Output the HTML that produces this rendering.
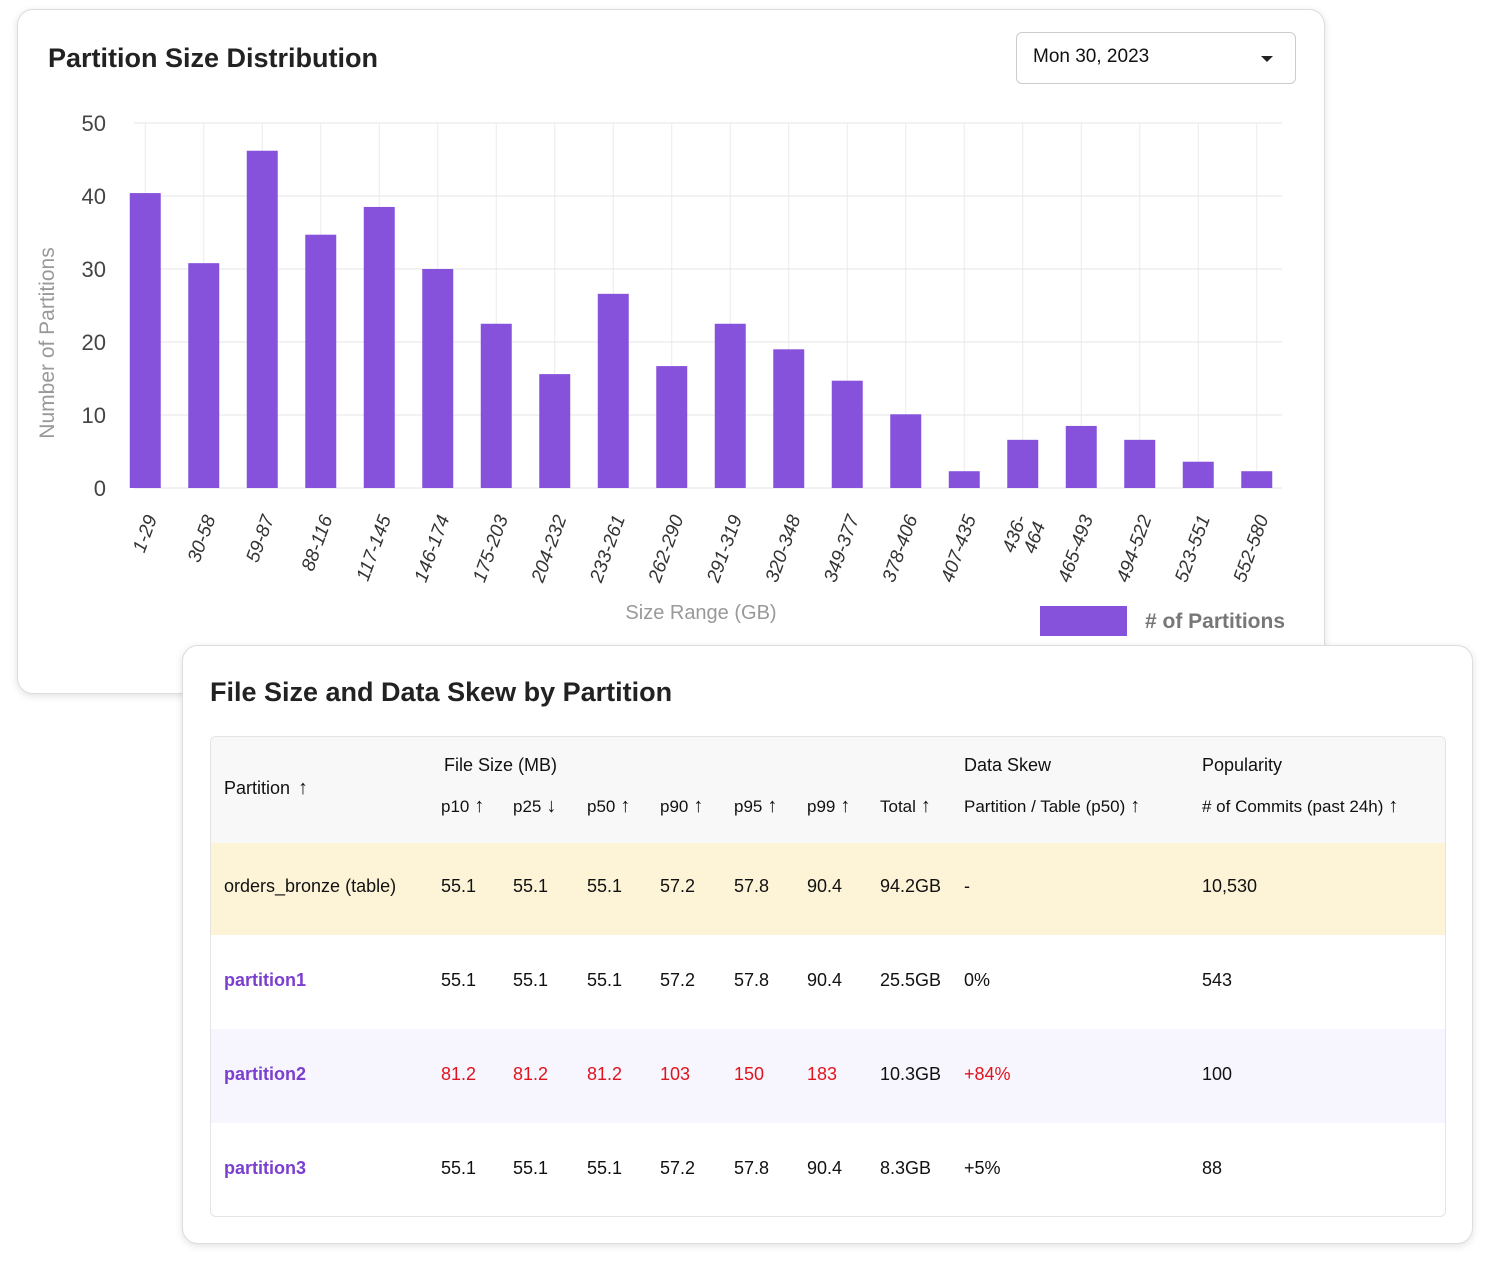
<!DOCTYPE html>
<html><head><meta charset="utf-8"><style>
*{box-sizing:border-box}
body{margin:0;width:1493px;height:1273px;background:#fff;font-family:"Liberation Sans",sans-serif;position:relative;overflow:hidden;color:#1d2329}
.card{position:absolute;background:#fff;border:1px solid #ddd;border-radius:16px;box-shadow:0 2px 8px rgba(0,0,0,.12)}
.t{position:absolute;font-size:18px;white-space:nowrap;color:#111}
.arr{font-size:20px;margin-left:8px}
</style></head><body>
<div class="card" style="left:17px;top:9px;width:1308px;height:685px">
  <div style="position:absolute;left:30px;top:33px;font-size:27px;font-weight:bold;color:#222">Partition Size Distribution</div>
  <div style="position:absolute;left:998px;top:22px;width:280px;height:52px;border:1px solid #ccc;border-radius:6px;font-size:19px;padding:13px 0 0 16px;color:#111">Mon 30, 2023<span style="position:absolute;right:22px;top:23px;border-left:6px solid transparent;border-right:6px solid transparent;border-top:6px solid #222"></span></div>
</div>
<svg id="chart" style="position:absolute;left:0;top:0" width="1493" height="700"></svg>
<div class="card" style="left:182px;top:645px;width:1291px;height:599px">
  <div style="position:absolute;left:27px;top:31px;font-size:27px;font-weight:bold;color:#222">File Size and Data Skew by Partition</div>
</div>
<div style="position:absolute;left:210px;top:736px;width:1236px;height:481px;border:1px solid #e4e4e4;border-radius:6px;overflow:hidden">
  <div style="position:absolute;left:0;top:0;width:100%;height:106px;background:#f8f8f8"></div>
  <div style="position:absolute;left:0;top:106px;width:100%;height:92px;background:#fdf4d8"></div>
  <div style="position:absolute;left:0;top:292px;width:100%;height:94px;background:#f7f5fd"></div>
</div>
<div id="tbl"></div>
<script>
const categories=["1-29","30-58","59-87","88-116","117-145","146-174","175-203","204-232","233-261","262-290","291-319","320-348","349-377","378-406","407-435","436-\n464","465-493","494-522","523-551","552-580"];
const values=[40.4,30.8,46.2,34.7,38.5,30,22.5,15.6,26.6,16.7,22.5,19,14.7,10.1,2.3,6.6,8.5,6.6,3.6,2.3];
const yTicks=[0,10,20,30,40,50];
const svg=document.getElementById('chart');const NS='http://www.w3.org/2000/svg';
const y0=488,y1=123,yMax=50,x0=116,bw=58.5;
const ys=v=>y0-(v/yMax)*(y0-y1);const xc=i=>x0+bw*(i+0.5);
function mk(t,a,txt){const e=document.createElementNS(NS,t);for(const k in a)e.setAttribute(k,a[k]);if(txt!=null)e.textContent=txt;svg.appendChild(e);return e;}
categories.forEach((c,i)=>{const g=mk('line',{x1:xc(i),x2:xc(i),y1:y1,y2:y0,stroke:'#ebebeb'});});
yTicks.forEach(t=>{const l=mk('line',{x1:134,x2:1282,y1:ys(t),y2:ys(t),stroke:'#e6e6e6'});
const tx=mk('text',{x:106,y:ys(t)+8,'text-anchor':'end','font-size':22,fill:'#444'},t);});
values.forEach((v,i)=>{const r=mk('rect',{x:xc(i)-15.5,y:ys(v),width:31,height:y0-ys(v),fill:'#8752db'});});
categories.forEach((c,i)=>{const parts=c.split('\n');const x=xc(i)+12,y=518;
const t=mk('text',{transform:`translate(${x},${y}) rotate(-70)`,'text-anchor':'end','font-size':19,fill:'#333','font-style':'italic'});

parts.forEach((p,j)=>{const s=document.createElementNS(NS,'tspan');s.setAttribute('x',0);s.setAttribute('dy',j?20:0);s.textContent=p;t.appendChild(s);});
if(parts.length>1)t.setAttribute('transform',`translate(${x-8},${y}) rotate(-70)`);});
const yt=mk('text',{transform:'translate(54,343) rotate(-90)','text-anchor':'middle','font-size':21,fill:'#999'},'Number of Partitions');
const xt=mk('text',{x:701,y:619,'text-anchor':'middle','font-size':20,fill:'#999'},'Size Range (GB)');
const ls=mk('rect',{x:1040,y:606,width:87,height:30,fill:'#8752db'});
const lt=mk('text',{x:1145,y:628,'font-size':21,fill:'#777','font-weight':'bold'},'# of Partitions');

const cols=[224,441,513,587,660,734,807,880,964,1202];
let html='';
function put(x,y,txt,name,extra){html+=`<div class="t" style="left:${x}px;top:${y}px;${extra||''}">${txt}</div>`;}
put(224,777,'Partition<span class="arr">↑</span>','partition-header');
put(444,755,'File Size (MB)','file-size-header');
put(964,755,'Data Skew','data-skew-header');
put(1202,755,'Popularity','popularity-header');
const sub=['p10','p25','p50','p90','p95','p99','Total','Partition / Table (p50)','# of Commits (past 24h)'];
const dirs=['↑','↓','↑','↑','↑','↑','↑','↑','↑'];
sub.forEach((s,i)=>put(cols[i+1],795,s+'<span class="arr" style="margin-left:5px">'+dirs[i]+'</span>','column-header-'+i,'font-size:17px'));
const rows=[
 {y:876,c:['orders_bronze (table)','55.1','55.1','55.1','57.2','57.8','90.4','94.2GB','-','10,530'],red:false,name:'orders-bronze'},
 {y:970,c:['partition1','55.1','55.1','55.1','57.2','57.8','90.4','25.5GB','0%','543'],red:false,name:'partition1'},
 {y:1064,c:['partition2','81.2','81.2','81.2','103','150','183','10.3GB','+84%','100'],red:true,name:'partition2'},
 {y:1158,c:['partition3','55.1','55.1','55.1','57.2','57.8','90.4','8.3GB','+5%','88'],red:false,name:'partition3'}];
rows.forEach((r,ri)=>r.c.forEach((v,i)=>{let st='';if(i===0&&ri>0)st='color:#7a3fcf;font-weight:bold;';
 if(r.red&&((i>=1&&i<=6)||i===8))st='color:#e0141e;';put(cols[i],r.y,v,r.name+'-cell-'+i,st);}));
document.getElementById('tbl').innerHTML=html;
</script>
</body></html>
